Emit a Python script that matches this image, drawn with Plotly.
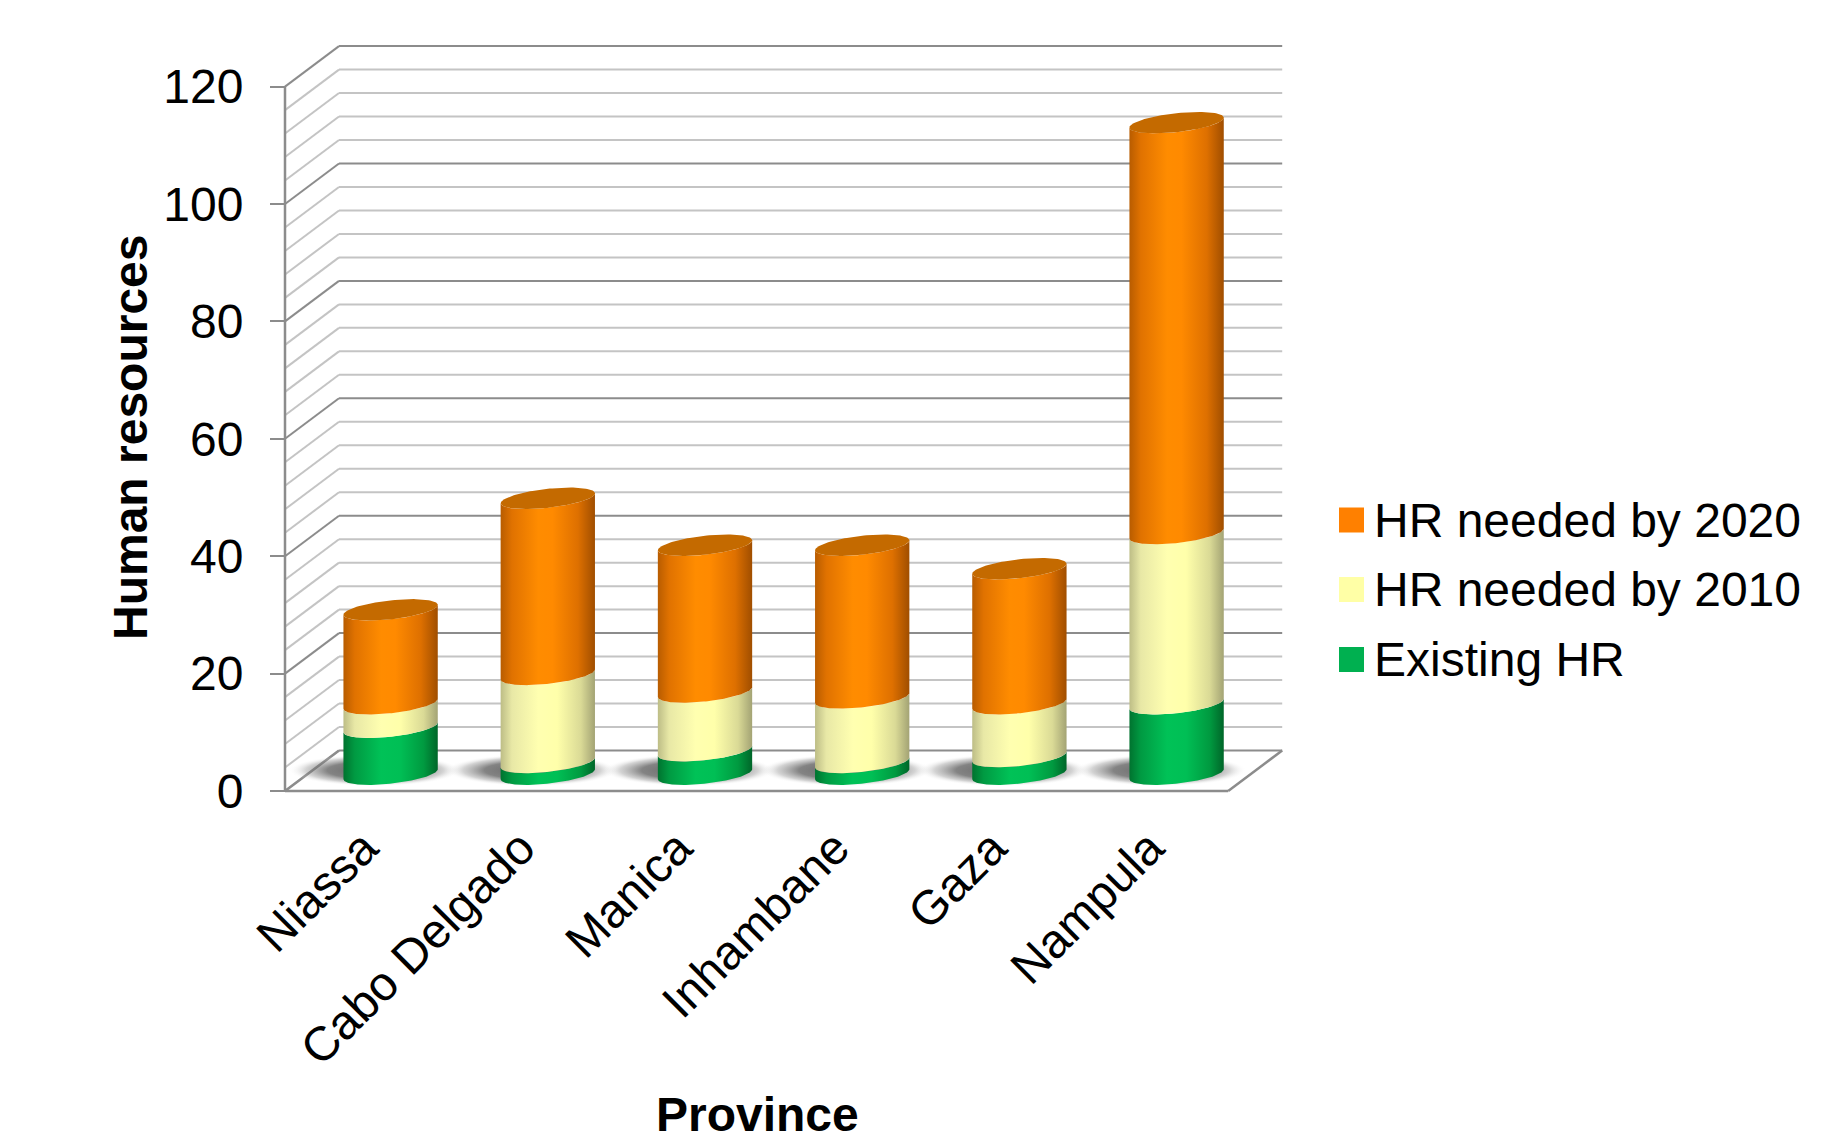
import numpy as np
import plotly.graph_objects as go

# ---- data -------------------------------------------------------------
provinces = ["Niassa", "Cabo Delgado", "Manica", "Inhambane", "Gaza", "Nampula"]
existing_hr = [8, 2, 4, 2, 3, 12]
needed_by_2010 = [4, 15, 10, 11, 9, 29]
needed_by_2020 = [16, 30, 25, 26, 23, 70]
series_labels = ["Existing HR", "HR needed by 2010", "HR needed by 2020"]
value_ticks = [0, 20, 40, 60, 80, 100, 120]
grid_values = list(range(0, 121, 4))

# ---- geometry of the pseudo-3D frame (pixels) --------------------------
FIG_W, FIG_H = 1829, 1137
FRONT_LEFT_PX = 285      # front-left corner of the floor
FRONT_ZERO_PX = 791      # value 0 on the front plane
CAT_PX = 157.2           # width of one category slot
VAL_PX = 5.87            # pixels per value unit
PAD = 6                  # spare room around the frame so edge lines are not clipped
RIGHT_PX = 1283          # right end of the back wall
TOP_PX = 45              # top of the back wall

plot_left = FRONT_LEFT_PX - PAD
plot_right = RIGHT_PX + PAD
plot_top = TOP_PX - PAD
plot_bottom = FRONT_ZERO_PX + PAD
plot_w = plot_right - plot_left
plot_h = plot_bottom - plot_top

x_range = [-0.5 - PAD / CAT_PX, -0.5 + (plot_right - FRONT_LEFT_PX) / CAT_PX]
y_range = [-PAD / VAL_PX, (FRONT_ZERO_PX - plot_top) / VAL_PX]

DEPTH_X = 54 / CAT_PX    # offset from front plane to back wall
DEPTH_Y = 40.5 / VAL_PX
MID_X = 27 / CAT_PX      # cylinders stand half way back
MID_Y = 16.8 / VAL_PX
HALF_W = 0.30            # cylinder radius in category units
RIM = 9.5 / VAL_PX       # vertical half-height of the rim ellipse
TILT = 5 / VAL_PX        # slight tilt of the rim ellipses

FONT = "Liberation Sans, Arial, sans-serif"
FONT_SIZE = 48


def px_to_paper_x(px):
    return (px - plot_left) / plot_w


def px_to_paper_y(py):
    return (plot_bottom - py) / plot_h


def rim(cx, cy, t0, t1, k=80):
    t = np.linspace(t0, t1, k)
    return cx + HALF_W * np.cos(t), cy + TILT * np.cos(t) - RIM * np.sin(t)


side_scales = {
    "Existing HR": [[0, "#00732F"], [0.12, "#009A42"], [0.4, "#00C257"], [0.6, "#00BF55"],
                    [0.85, "#009A40"], [1, "#006629"]],
    "HR needed by 2010": [[0, "#BDBD86"], [0.12, "#E8E8A6"], [0.4, "#FFFFB0"], [0.6, "#FFFFAA"],
                          [0.85, "#DADA96"], [1, "#A3A374"]],
    "HR needed by 2020": [[0, "#B85C00"], [0.12, "#E07200"], [0.4, "#FF8C00"], [0.55, "#FF8A00"],
                          [0.82, "#DE7000"], [1, "#A04E00"]],
}
top_color = "#C46A00"
legend_colors = {"HR needed by 2020": "#FF8000", "HR needed by 2010": "#FFFFA6",
                 "Existing HR": "#00B050"}

fig = go.Figure()

# soft shadows on the floor, a little behind and to the left of each base
for i in range(len(provinces)):
    cx = i + MID_X - 16 / CAT_PX
    cy = MID_Y + 4 / VAL_PX
    t = np.linspace(0, 2 * np.pi, 90)
    fig.add_trace(go.Scatter(
        x=cx + (86 / CAT_PX) * np.cos(t), y=cy + (16 / VAL_PX) * np.sin(t),
        mode="lines", line=dict(width=0), fill="toself",
        fillgradient=dict(type="radial",
                          colorscale=[[0, "rgba(80,80,80,0.9)"], [0.55, "rgba(90,90,90,0.75)"],
                                      [0.8, "rgba(130,130,130,0.35)"],
                                      [1, "rgba(255,255,255,0)"]]),
        hoverinfo="skip", showlegend=False))

# stacked cylinders
stacks = [existing_hr, needed_by_2010, needed_by_2020]
for i, name in enumerate(provinces):
    cx = i + MID_X
    base = 0.0
    for label, values in zip(series_labels, stacks):
        y0 = base + MID_Y
        y1 = base + values[i] + MID_Y
        xb, yb = rim(cx, y0, np.pi, 0)
        xt, yt = rim(cx, y1, 0, np.pi)
        fig.add_trace(go.Scatter(
            x=np.concatenate([xb, xt, xb[:1]]), y=np.concatenate([yb, yt, yb[:1]]),
            mode="lines", line=dict(width=0), fill="toself",
            fillgradient=dict(type="horizontal", colorscale=side_scales[label]),
            name=label, hovertemplate=f"{name}<br>{label}: {values[i]}<extra></extra>",
            showlegend=False))
        base += values[i]
    xc, yc = rim(cx, base + MID_Y, 0, 2 * np.pi, 120)
    fig.add_trace(go.Scatter(x=xc, y=yc, mode="lines", line=dict(width=0), fill="toself",
                             fillcolor=top_color, hoverinfo="skip", showlegend=False))

# walls: grid lines on the back wall and the left side wall
shapes = []
for v in grid_values:
    major = v % 20 == 0
    col = "#8C8C8C" if major else "#C4C4C4"
    shapes.append(dict(type="line", layer="below", xref="x", yref="y",
                       x0=-0.5 + DEPTH_X, y0=v + DEPTH_Y, x1=5.5 + DEPTH_X, y1=v + DEPTH_Y,
                       line=dict(color=col, width=2)))
    shapes.append(dict(type="line", layer="below", xref="x", yref="y",
                       x0=-0.5, y0=v, x1=-0.5 + DEPTH_X, y1=v + DEPTH_Y,
                       line=dict(color="#8C8C8C" if (major and v > 0) else "#C4C4C4",
                                 width=2)))
# floor outline and front value axis
for x0, y0, x1, y1 in [(-0.5, 0, 5.5, 0), (5.5, 0, 5.5 + DEPTH_X, DEPTH_Y),
                       (-0.5, 0, -0.5, 120), (-0.5, 0, -0.5 + DEPTH_X, DEPTH_Y)]:
    shapes.append(dict(type="line", layer="below", xref="x", yref="y",
                       x0=x0, y0=y0, x1=x1, y1=y1, line=dict(color="#8C8C8C", width=2.5)))

# legend
legend_rows = [("HR needed by 2020", 520), ("HR needed by 2010", 589.5), ("Existing HR", 659.5)]
annotations = []
for label, cy in legend_rows:
    shapes.append(dict(type="rect", xref="paper", yref="paper",
                       x0=px_to_paper_x(1339), x1=px_to_paper_x(1364),
                       y0=px_to_paper_y(cy + 12.5), y1=px_to_paper_y(cy - 12.5),
                       fillcolor=legend_colors[label], line=dict(width=0)))
    annotations.append(dict(xref="paper", yref="paper", x=px_to_paper_x(1372),
                            y=px_to_paper_y(cy), xanchor="left", yanchor="middle",
                            text=label, showarrow=False,
                            font=dict(family=FONT, size=FONT_SIZE, color="black")))

annotations.append(dict(xref="paper", yref="paper", x=px_to_paper_x(130), y=px_to_paper_y(437),
                        xanchor="center", yanchor="middle", textangle=-90,
                        text="<b>Human resources</b>", showarrow=False,
                        font=dict(family=FONT, size=FONT_SIZE, color="black")))
annotations.append(dict(xref="paper", yref="paper", x=px_to_paper_x(757), y=px_to_paper_y(1114),
                        xanchor="center", yanchor="middle",
                        text="<b>Province</b>", showarrow=False,
                        font=dict(family=FONT, size=FONT_SIZE, color="black")))

fig.update_layout(
    width=FIG_W, height=FIG_H,
    margin=dict(l=plot_left, r=FIG_W - plot_right, t=plot_top, b=FIG_H - plot_bottom),
    paper_bgcolor="white", plot_bgcolor="white",
    showlegend=False, shapes=shapes, annotations=annotations,
    font=dict(family=FONT, size=FONT_SIZE, color="black"),
    xaxis=dict(range=x_range, tickmode="array", tickvals=list(range(len(provinces))),
               ticktext=provinces, tickangle=-45, ticks="", showgrid=False, zeroline=False,
               showline=False, ticklabelstandoff=12,
               tickfont=dict(family=FONT, size=FONT_SIZE, color="black")),
    yaxis=dict(range=y_range, tickmode="array", tickvals=value_ticks, ticks="outside",
               ticklen=15, tickwidth=2, tickcolor="#8C8C8C", showgrid=False, zeroline=False,
               showline=False, anchor="free", position=px_to_paper_x(FRONT_LEFT_PX),
               ticklabelstandoff=17,
               tickfont=dict(family=FONT, size=FONT_SIZE, color="black")),
)

fig.write_html("out.html", config={"displayModeBar": False})
